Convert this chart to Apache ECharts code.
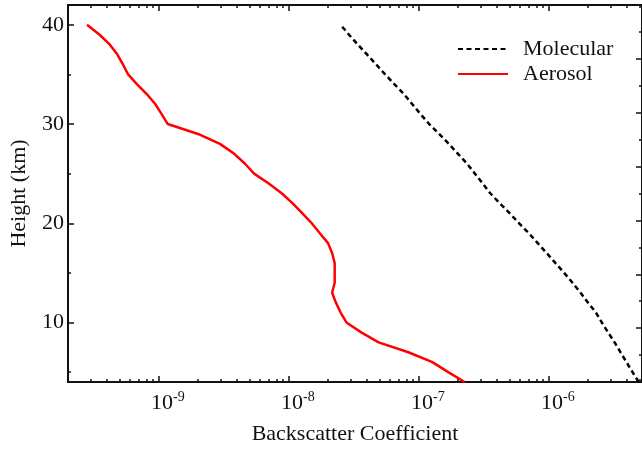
<!DOCTYPE html>
<html>
<head>
<meta charset="utf-8">
<script src="https://cdn.jsdelivr.net/npm/echarts@6/dist/echarts.min.js"></script>
<style>
  html, body { margin: 0; padding: 0; background: #fff; }
  #chart { width: 642px; height: 450px; }
</style>
</head>
<body>
<div id="chart"></div>
<script>
// heights in km, bottom to top
const heights = [4, 5, 6, 7, 8, 9, 10, 11, 12, 13, 14, 15, 16, 17, 18, 19, 20, 21, 22,
  23, 24, 25, 26, 27, 28, 29, 30, 31, 32, 33, 34, 35, 36, 37, 38, 39, 40];

const molecular = [4.9e-6, 4.4e-6, 3.95e-6, 3.55e-6, 3.2e-6, 2.85e-6, 2.55e-6, 2.3e-6, 2.0e-6,
  1.75e-6, 1.52e-6, 1.31e-6, 1.12e-6, 9.6e-7, 8.2e-7, 7.0e-7, 5.9e-7, 5.0e-7, 4.2e-7,
  3.55e-7, 3.1e-7, 2.7e-7, 2.35e-7, 2.0e-7, 1.7e-7, 1.43e-7, 1.2e-7, 1.03e-7, 8.9e-8,
  7.7e-8, 6.5e-8, 5.5e-8, 4.7e-8, 4.0e-8, 3.4e-8, 2.9e-8, 2.5e-8];

const aerosol = [2.25e-7, 1.68e-7, 1.27e-7, 8.3e-8, 4.9e-8, 3.6e-8, 2.77e-8, 2.5e-8, 2.3e-8,
  2.15e-8, 2.25e-8, 2.25e-8, 2.25e-8, 2.15e-8, 2.0e-8, 1.73e-8, 1.5e-8, 1.27e-8, 1.07e-8,
  8.85e-9, 7.0e-9, 5.4e-9, 4.6e-9, 3.8e-9, 2.95e-9, 2.0e-9, 1.17e-9, 1.05e-9, 9.4e-10,
  8.1e-10, 6.8e-10, 5.8e-10, 5.3e-10, 4.8e-10, 4.2e-10, 3.5e-10, 2.8e-10];

const xMajorTicks = [1e-9, 1e-8, 1e-7, 1e-6];
const xMinorTicks = [];
[-10, -9, -8, -7, -6].forEach(function (e) {
  for (let k = 2; k <= 9; k++) xMinorTicks.push(+(k + "e" + e));
});
const yMajorTicks = [10, 20, 30, 40];
const yMinorTicks = [5, 15, 25, 35];

const X_MIN = 2e-10, X_MAX = 5.2e-6;
const Y_MIN = 4, Y_MAX = 42;
const FONT = "'Liberation Serif', 'Times New Roman', serif";
const INK = "#111";

const chart = echarts.init(document.getElementById("chart"), null, { renderer: "canvas" });

function logAxis(pos, ticks, len, withLine, withLabels) {
  return {
    type: "log",
    position: pos,
    min: X_MIN,
    max: X_MAX,
    axisLine: { show: withLine, lineStyle: { color: INK, width: 2 } },
    axisTick: { show: true, inside: true, length: len, customValues: ticks,
      lineStyle: { color: INK, width: 1.5 } },
    axisLabel: withLabels ? {
      show: true,
      customValues: ticks,
      margin: 8,
      formatter: function (v) {
        const e = Math.round(Math.log10(v));
        return "{b|10}{s|" + e + "}";
      },
      rich: {
        b: { fontFamily: FONT, fontSize: 22, color: INK, padding: [0, 0, 0, 18] },
        s: { fontFamily: FONT, fontSize: 14, color: INK, padding: [0, 0, 12, 0] }
      }
    } : { show: false },
    splitLine: { show: false }
  };
}

const option = {
  backgroundColor: "#fff",
  animation: false,
  grid: { left: 67, right: -1, top: 5, bottom: 65 },
  legend: {
    orient: "vertical",
    left: 452,
    top: 33,
    itemWidth: 50,
    itemHeight: 10,
    itemGap: 3,
    itemStyle: { opacity: 0 },
    textStyle: { fontFamily: FONT, fontSize: 22, lineHeight: 22, color: INK, padding: [0, 0, 0, 10] },
    data: ["Molecular", "Aerosol"]
  },
  xAxis: [
    Object.assign(logAxis("bottom", xMajorTicks, 6, true, true), {
      name: "Backscatter Coefficient",
      nameLocation: "middle",
      nameGap: 41,
      nameTextStyle: { fontFamily: FONT, fontSize: 22, color: INK }
    }),
    logAxis("bottom", xMinorTicks, 3, false, false),
    logAxis("top", xMajorTicks, 6, true, false),
    logAxis("top", xMinorTicks, 3, false, false)
  ],
  yAxis: [
    {
      type: "value",
      position: "left",
      min: Y_MIN,
      max: Y_MAX,
      name: "Height (km)",
      nameLocation: "middle",
      nameGap: 38,
      nameTextStyle: { fontFamily: FONT, fontSize: 22, color: INK },
      axisLine: { show: true, lineStyle: { color: INK, width: 2 } },
      axisTick: { show: true, inside: true, length: 6, customValues: yMajorTicks,
        lineStyle: { color: INK, width: 1.5 } },
      axisLabel: { show: true, customValues: yMajorTicks, margin: 4,
        fontFamily: FONT, fontSize: 22, color: INK },
      splitLine: { show: false }
    },
    {
      type: "value",
      position: "left",
      min: Y_MIN,
      max: Y_MAX,
      axisLine: { show: false },
      axisTick: { show: true, inside: true, length: 3, customValues: yMinorTicks,
        lineStyle: { color: INK, width: 1.5 } },
      axisLabel: { show: false },
      splitLine: { show: false }
    },
    {
      type: "value",
      position: "right",
      min: 0,
      max: 7,
      interval: 1,
      axisLine: { show: true, lineStyle: { color: INK, width: 2 } },
      axisTick: { show: true, inside: true, length: 6, lineStyle: { color: INK, width: 1.5 } },
      minorTick: { show: true, splitNumber: 2, length: 3, lineStyle: { color: INK, width: 1.5 } },
      axisLabel: { show: false },
      splitLine: { show: false }
    }
  ],
  series: [
    {
      name: "Molecular",
      type: "line",
      xAxisIndex: 0,
      yAxisIndex: 0,
      symbol: "none",
      lineStyle: { color: "#000", width: 2.5, type: [5, 3.5] },
      itemStyle: { color: "#000" },
      data: heights.map(function (h, i) { return [molecular[i], h]; })
    },
    {
      name: "Aerosol",
      type: "line",
      xAxisIndex: 0,
      yAxisIndex: 0,
      symbol: "none",
      lineStyle: { color: "#ff0000", width: 2.5 },
      itemStyle: { color: "#ff0000" },
      data: heights.map(function (h, i) { return [aerosol[i], h]; })
    }
  ]
};

chart.setOption(option);
</script>
</body>
</html>
